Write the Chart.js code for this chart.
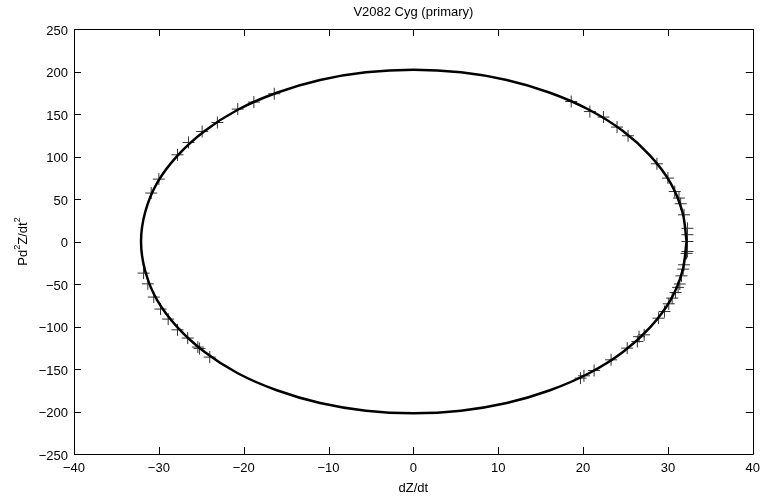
<!DOCTYPE html>
<html>
<head>
<meta charset="utf-8">
<script src="https://cdn.jsdelivr.net/npm/chart.js@4/dist/chart.umd.min.js"></script>
<style>
  body { margin: 0; background: #fff; }
  canvas { display: block; }
</style>
</head>
<body>
<canvas id="orbitChart" width="767" height="500"></canvas>
<script>
// Fitted orbit curve (dZ/dt, P d2Z/dt2), read every 10 degrees round the loop
const curveX = [32.2, 31.7, 30.3, 27.9, 24.7, 20.7, 16.1, 11.0, 5.6, 0, -5.6, -11.0, -16.1, -20.7, -24.6, -27.8, -30.2, -31.6, -32.1,
  -31.6, -30.2, -27.8, -24.6, -20.7, -16.1, -11.0, -5.6, 0, 5.6, 11.0, 16.1, 20.7, 24.7, 27.9, 30.3, 31.7, 32.2]
const curveY = [0, 35, 69, 101, 130, 155, 175, 190, 199, 202, 199, 190, 175, 155, 130, 101, 69, 35, 0,
  -35, -69, -101, -130, -155, -175, -190, -199, -202, -199, -190, -175, -155, -130, -101, -69, -35, 0]

// Observed points
const obsX = [-16.4, -18.8, -20.7, -23.1, -24.9, -26.5, -27.8, -30.0, -30.9,
  -31.8, -31.3, -30.6, -29.8, -28.9, -27.8, -26.6, -25.4, -25.2, -24.0,
  18.6, 20.8, 22.4, 24.0, 25.3, 28.7, 30.0, 30.8, 31.3, 31.5, 31.9,
  32.3, 32.3, 32.3, 32.3, 32.2, 31.9, 31.8, 31.6, 31.4, 31.2, 30.9, 30.5, 30.1, 29.6, 28.9,
  27.2, 26.6, 26.4, 25.2, 23.3, 21.3, 19.7, 20.1]
const obsY = [173.8, 164, 155.8, 140, 129.4, 116.5, 102, 73.4, 57,
  -37.2, -49.8, -65.4, -79.5, -91.3, -103.9, -113.6, -124.2, -126, -136,
  164.7, 152.9, 146.4, 134.6, 124.4, 91.4, 74.6, 58.8, 51.1, 44.4, 31.4,
  15.5, 8, 0, -11.8, -14, -27.4, -32.5, -40.4, -50, -54, -60, -66.6, -73.3, -82.4, -90.2,
  -109.8, -112, -117.6, -125.4, -139.2, -151.8, -160.7, -158]

const xTicks = [-40, -30, -20, -10, 0, 10, 20, 30, 40]
const yTicks = [-250, -200, -150, -100, -50, 0, 50, 100, 150, 200, 250]

const titleText = 'V2082 Cyg (primary)'
const xLabel = 'dZ/dt'

const fontFamily = '"Liberation Sans", Arial, Helvetica, sans-serif'
const minus = (v) => String(v).replace('-', '\u2212')

const toPoints = (xs, ys) => xs.map((x, i) => ({ x: x, y: ys[i] }))

// Box round the plot with inward ticks on all four sides, plus title and axis labels
const frame = {
  id: 'frame',
  afterDraw(chart) {
    const ctx = chart.ctx
    const a = chart.chartArea
    const sx = chart.scales.x
    const sy = chart.scales.y
    const len = 7
    ctx.save()
    ctx.strokeStyle = '#000'
    ctx.lineWidth = 1
    ctx.beginPath()
    ctx.rect(Math.round(a.left) + 0.5, Math.round(a.top) + 0.5, Math.round(a.right - a.left), Math.round(a.bottom - a.top))
    xTicks.forEach((v) => {
      const px = Math.round(sx.getPixelForValue(v)) + 0.5
      ctx.moveTo(px, a.bottom); ctx.lineTo(px, a.bottom - len)
      ctx.moveTo(px, a.top); ctx.lineTo(px, a.top + len)
    })
    yTicks.forEach((v) => {
      const py = Math.round(sy.getPixelForValue(v)) + 0.5
      ctx.moveTo(a.left, py); ctx.lineTo(a.left + len, py)
      ctx.moveTo(a.right, py); ctx.lineTo(a.right - len, py)
    })
    ctx.stroke()

    ctx.fillStyle = '#000'
    ctx.font = '13px ' + fontFamily
    ctx.textAlign = 'center'
    ctx.textBaseline = 'middle'
    ctx.fillText(titleText, (a.left + a.right) / 2, 12)
    ctx.fillText(xLabel, (a.left + a.right) / 2, 488)

    // y label with raised superscripts: Pd²Z/dt²
    const parts = [['Pd', false], ['2', true], ['Z/dt', false], ['2', true]]
    const big = '13px ' + fontFamily
    const small = '9px ' + fontFamily
    let total = 0
    parts.forEach(([t, sup]) => { ctx.font = sup ? small : big; total += ctx.measureText(t).width })
    ctx.translate(23, (a.top + a.bottom) / 2)
    ctx.rotate(-Math.PI / 2)
    ctx.textAlign = 'left'
    let cx = -total / 2
    parts.forEach(([t, sup]) => {
      ctx.font = sup ? small : big
      ctx.fillText(t, cx, sup ? -5 : 0)
      cx += ctx.measureText(t).width
    })
    ctx.restore()
  }
}

new Chart(document.getElementById('orbitChart').getContext('2d'), {
  type: 'scatter',
  data: {
    datasets: [
      {
        label: 'orbit',
        data: toPoints(curveX, curveY),
        showLine: true,
        borderColor: '#000',
        borderWidth: 2.5,
        tension: 0.4,
        pointRadius: 0
      },
      {
        label: 'observed',
        data: toPoints(obsX, obsY),
        pointStyle: 'cross',
        pointRadius: 6,
        borderColor: '#333',
        borderWidth: 1
      }
    ]
  },
  options: {
    responsive: false,
    animation: false,
    layout: { padding: { top: 29, right: 11 } },
    scales: {
      x: {
        type: 'linear',
        min: -40,
        max: 40,
        grid: { display: false, drawTicks: false },
        border: { display: false },
        ticks: {
          stepSize: 10,
          padding: 7,
          color: '#000',
          font: { family: fontFamily, size: 13 },
          callback: minus
        },
        afterFit: (s) => { s.height = 46 }
      },
      y: {
        min: -250,
        max: 250,
        grid: { display: false, drawTicks: false },
        border: { display: false },
        ticks: {
          stepSize: 50,
          padding: 6,
          labelOffset: 2,
          color: '#000',
          font: { family: fontFamily, size: 13 },
          callback: minus
        },
        afterFit: (s) => { s.width = 74 }
      }
    },
    plugins: {
      legend: { display: false },
      tooltip: { enabled: false }
    }
  },
  plugins: [frame]
})
</script>
</body>
</html>
